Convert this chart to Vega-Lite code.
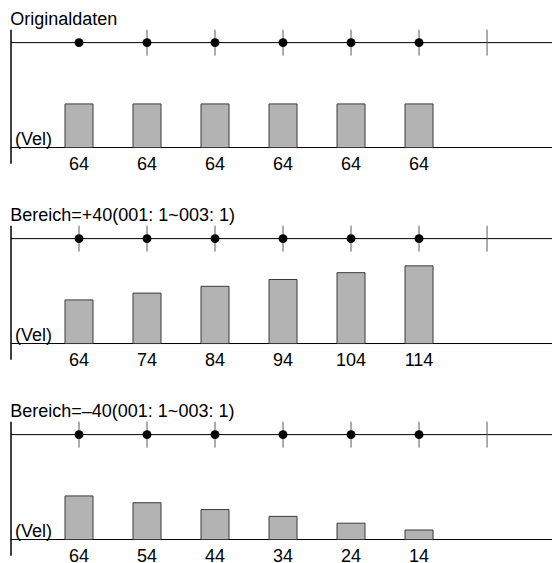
{
  "$schema": "https://vega.github.io/schema/vega-lite/v6.json",
  "background": "white",
  "padding": {"left": 10, "top": 10, "right": 0, "bottom": -3},
  "bounds": "flush",
  "spacing": 55,
  "config": {"view": {"stroke": null}, "font": "Liberation Sans", "title": {"font": "Liberation Sans", "fontSize": 18, "fontWeight": "normal", "color": "black", "anchor": "start", "offset": 0.1, "baseline": "alphabetic"}},
  "datasets": {
    "bars": [
      {"p": 1, "pos": 1, "vel": 64}, {"p": 1, "pos": 2, "vel": 64}, {"p": 1, "pos": 3, "vel": 64},
      {"p": 1, "pos": 4, "vel": 64}, {"p": 1, "pos": 5, "vel": 64}, {"p": 1, "pos": 6, "vel": 64},
      {"p": 2, "pos": 1, "vel": 64}, {"p": 2, "pos": 2, "vel": 74}, {"p": 2, "pos": 3, "vel": 84},
      {"p": 2, "pos": 4, "vel": 94}, {"p": 2, "pos": 5, "vel": 104}, {"p": 2, "pos": 6, "vel": 114},
      {"p": 3, "pos": 1, "vel": 64}, {"p": 3, "pos": 2, "vel": 54}, {"p": 3, "pos": 3, "vel": 44},
      {"p": 3, "pos": 4, "vel": 34}, {"p": 3, "pos": 5, "vel": 24}, {"p": 3, "pos": 6, "vel": 14}
    ],
    "ticks": [
      {"p": 1, "pos": 2}, {"p": 1, "pos": 3}, {"p": 1, "pos": 4}, {"p": 1, "pos": 5}, {"p": 1, "pos": 6}, {"p": 1, "pos": 7},
      {"p": 2, "pos": 1}, {"p": 2, "pos": 2}, {"p": 2, "pos": 3}, {"p": 2, "pos": 4}, {"p": 2, "pos": 5}, {"p": 2, "pos": 6}, {"p": 2, "pos": 7},
      {"p": 3, "pos": 1}, {"p": 3, "pos": 2}, {"p": 3, "pos": 3}, {"p": 3, "pos": 4}, {"p": 3, "pos": 5}, {"p": 3, "pos": 6}, {"p": 3, "pos": 7}
    ],
    "one": [{}]
  },
  "vconcat": [
    {
      "width": 542, "height": 141,
      "title": {"text": "Originaldaten"},
      "layer": [
        {"data": {"name": "one"}, "mark": {"type": "rule", "color": "black", "strokeWidth": 1}, "encoding": {"y": {"datum": 154, "type": "quantitative", "scale": {"domain": [-33, 174], "nice": false, "zero": false}, "axis": null}}},
        {"data": {"name": "one"}, "mark": {"type": "rule", "color": "black", "strokeWidth": 1}, "encoding": {"y": {"datum": 0, "type": "quantitative", "scale": {"domain": [-33, 174], "nice": false, "zero": false}, "axis": null}}},
        {"data": {"name": "one"}, "mark": {"type": "rule", "color": "black", "strokeWidth": 1.5}, "encoding": {"x": {"datum": 0, "type": "quantitative", "scale": {"domain": [0, 7.97], "nice": false, "zero": false, "padding": 0}, "axis": null}, "y": {"datum": 173, "type": "quantitative", "scale": {"domain": [-33, 174], "nice": false, "zero": false}, "axis": null}, "y2": {"datum": -24}}},
        {"data": {"name": "ticks"}, "transform": [{"filter": "datum.p == 1"}], "mark": {"type": "rule", "color": "#5a5a5a", "strokeWidth": 1}, "encoding": {"x": {"field": "pos", "type": "quantitative", "scale": {"domain": [0, 7.97], "nice": false, "zero": false, "padding": 0}, "axis": null}, "y": {"datum": 135, "type": "quantitative", "scale": {"domain": [-33, 174], "nice": false, "zero": false}, "axis": null}, "y2": {"datum": 173}}},
        {"data": {"name": "bars"}, "transform": [{"filter": "datum.p == 1"}], "mark": {"type": "bar", "size": 28, "fill": "#b3b3b3", "stroke": "#3a3a3a", "strokeWidth": 1}, "encoding": {"x": {"field": "pos", "type": "quantitative", "scale": {"domain": [0, 7.97], "nice": false, "zero": false, "padding": 0}, "axis": null}, "y": {"field": "vel", "type": "quantitative", "scale": {"domain": [-33, 174], "nice": false, "zero": false}, "axis": null}, "y2": {"datum": 0}}},
        {"data": {"name": "bars"}, "transform": [{"filter": "datum.p == 1"}], "mark": {"type": "point", "filled": true, "color": "black", "size": 80, "opacity": 1}, "encoding": {"x": {"field": "pos", "type": "quantitative", "scale": {"domain": [0, 7.97], "nice": false, "zero": false, "padding": 0}, "axis": null}, "y": {"datum": 154, "type": "quantitative", "scale": {"domain": [-33, 174], "nice": false, "zero": false}, "axis": null}}},
        {"data": {"name": "bars"}, "transform": [{"filter": "datum.p == 1"}], "mark": {"type": "text", "fontSize": 18, "color": "black", "baseline": "alphabetic"}, "encoding": {"x": {"field": "pos", "type": "quantitative", "scale": {"domain": [0, 7.97], "nice": false, "zero": false, "padding": 0}, "axis": null}, "y": {"datum": -32.6, "type": "quantitative", "scale": {"domain": [-33, 174], "nice": false, "zero": false}, "axis": null}, "text": {"field": "vel", "type": "nominal"}}},
        {"data": {"name": "one"}, "mark": {"type": "text", "fontSize": 18, "color": "black", "align": "left", "baseline": "alphabetic", "dx": 4, "dy": -3, "text": "(Vel)"}, "encoding": {"x": {"datum": 0, "type": "quantitative", "scale": {"domain": [0, 7.97], "nice": false, "zero": false, "padding": 0}, "axis": null}, "y": {"datum": 0, "type": "quantitative", "scale": {"domain": [-33, 174], "nice": false, "zero": false}, "axis": null}}}
      ]
    },
    {
      "width": 542, "height": 141,
      "title": {"text": "Bereich=+40(001: 1~003: 1)"},
      "layer": [
        {"data": {"name": "one"}, "mark": {"type": "rule", "color": "black", "strokeWidth": 1}, "encoding": {"y": {"datum": 154, "type": "quantitative", "scale": {"domain": [-33, 174], "nice": false, "zero": false}, "axis": null}}},
        {"data": {"name": "one"}, "mark": {"type": "rule", "color": "black", "strokeWidth": 1}, "encoding": {"y": {"datum": 0, "type": "quantitative", "scale": {"domain": [-33, 174], "nice": false, "zero": false}, "axis": null}}},
        {"data": {"name": "one"}, "mark": {"type": "rule", "color": "black", "strokeWidth": 1.5}, "encoding": {"x": {"datum": 0, "type": "quantitative", "scale": {"domain": [0, 7.97], "nice": false, "zero": false, "padding": 0}, "axis": null}, "y": {"datum": 173, "type": "quantitative", "scale": {"domain": [-33, 174], "nice": false, "zero": false}, "axis": null}, "y2": {"datum": -24}}},
        {"data": {"name": "ticks"}, "transform": [{"filter": "datum.p == 2"}], "mark": {"type": "rule", "color": "#5a5a5a", "strokeWidth": 1}, "encoding": {"x": {"field": "pos", "type": "quantitative", "scale": {"domain": [0, 7.97], "nice": false, "zero": false, "padding": 0}, "axis": null}, "y": {"datum": 135, "type": "quantitative", "scale": {"domain": [-33, 174], "nice": false, "zero": false}, "axis": null}, "y2": {"datum": 173}}},
        {"data": {"name": "bars"}, "transform": [{"filter": "datum.p == 2"}], "mark": {"type": "bar", "size": 28, "fill": "#b3b3b3", "stroke": "#3a3a3a", "strokeWidth": 1}, "encoding": {"x": {"field": "pos", "type": "quantitative", "scale": {"domain": [0, 7.97], "nice": false, "zero": false, "padding": 0}, "axis": null}, "y": {"field": "vel", "type": "quantitative", "scale": {"domain": [-33, 174], "nice": false, "zero": false}, "axis": null}, "y2": {"datum": 0}}},
        {"data": {"name": "bars"}, "transform": [{"filter": "datum.p == 2"}], "mark": {"type": "point", "filled": true, "color": "black", "size": 80, "opacity": 1}, "encoding": {"x": {"field": "pos", "type": "quantitative", "scale": {"domain": [0, 7.97], "nice": false, "zero": false, "padding": 0}, "axis": null}, "y": {"datum": 154, "type": "quantitative", "scale": {"domain": [-33, 174], "nice": false, "zero": false}, "axis": null}}},
        {"data": {"name": "bars"}, "transform": [{"filter": "datum.p == 2"}], "mark": {"type": "text", "fontSize": 18, "color": "black", "baseline": "alphabetic"}, "encoding": {"x": {"field": "pos", "type": "quantitative", "scale": {"domain": [0, 7.97], "nice": false, "zero": false, "padding": 0}, "axis": null}, "y": {"datum": -32.6, "type": "quantitative", "scale": {"domain": [-33, 174], "nice": false, "zero": false}, "axis": null}, "text": {"field": "vel", "type": "nominal"}}},
        {"data": {"name": "one"}, "mark": {"type": "text", "fontSize": 18, "color": "black", "align": "left", "baseline": "alphabetic", "dx": 4, "dy": -3, "text": "(Vel)"}, "encoding": {"x": {"datum": 0, "type": "quantitative", "scale": {"domain": [0, 7.97], "nice": false, "zero": false, "padding": 0}, "axis": null}, "y": {"datum": 0, "type": "quantitative", "scale": {"domain": [-33, 174], "nice": false, "zero": false}, "axis": null}}}
      ]
    },
    {
      "width": 542, "height": 141,
      "title": {"text": "Bereich=–40(001: 1~003: 1)"},
      "layer": [
        {"data": {"name": "one"}, "mark": {"type": "rule", "color": "black", "strokeWidth": 1}, "encoding": {"y": {"datum": 154, "type": "quantitative", "scale": {"domain": [-33, 174], "nice": false, "zero": false}, "axis": null}}},
        {"data": {"name": "one"}, "mark": {"type": "rule", "color": "black", "strokeWidth": 1}, "encoding": {"y": {"datum": 0, "type": "quantitative", "scale": {"domain": [-33, 174], "nice": false, "zero": false}, "axis": null}}},
        {"data": {"name": "one"}, "mark": {"type": "rule", "color": "black", "strokeWidth": 1.5}, "encoding": {"x": {"datum": 0, "type": "quantitative", "scale": {"domain": [0, 7.97], "nice": false, "zero": false, "padding": 0}, "axis": null}, "y": {"datum": 173, "type": "quantitative", "scale": {"domain": [-33, 174], "nice": false, "zero": false}, "axis": null}, "y2": {"datum": -24}}},
        {"data": {"name": "ticks"}, "transform": [{"filter": "datum.p == 3"}], "mark": {"type": "rule", "color": "#5a5a5a", "strokeWidth": 1}, "encoding": {"x": {"field": "pos", "type": "quantitative", "scale": {"domain": [0, 7.97], "nice": false, "zero": false, "padding": 0}, "axis": null}, "y": {"datum": 135, "type": "quantitative", "scale": {"domain": [-33, 174], "nice": false, "zero": false}, "axis": null}, "y2": {"datum": 173}}},
        {"data": {"name": "bars"}, "transform": [{"filter": "datum.p == 3"}], "mark": {"type": "bar", "size": 28, "fill": "#b3b3b3", "stroke": "#3a3a3a", "strokeWidth": 1}, "encoding": {"x": {"field": "pos", "type": "quantitative", "scale": {"domain": [0, 7.97], "nice": false, "zero": false, "padding": 0}, "axis": null}, "y": {"field": "vel", "type": "quantitative", "scale": {"domain": [-33, 174], "nice": false, "zero": false}, "axis": null}, "y2": {"datum": 0}}},
        {"data": {"name": "bars"}, "transform": [{"filter": "datum.p == 3"}], "mark": {"type": "point", "filled": true, "color": "black", "size": 80, "opacity": 1}, "encoding": {"x": {"field": "pos", "type": "quantitative", "scale": {"domain": [0, 7.97], "nice": false, "zero": false, "padding": 0}, "axis": null}, "y": {"datum": 154, "type": "quantitative", "scale": {"domain": [-33, 174], "nice": false, "zero": false}, "axis": null}}},
        {"data": {"name": "bars"}, "transform": [{"filter": "datum.p == 3"}], "mark": {"type": "text", "fontSize": 18, "color": "black", "baseline": "alphabetic"}, "encoding": {"x": {"field": "pos", "type": "quantitative", "scale": {"domain": [0, 7.97], "nice": false, "zero": false, "padding": 0}, "axis": null}, "y": {"datum": -32.6, "type": "quantitative", "scale": {"domain": [-33, 174], "nice": false, "zero": false}, "axis": null}, "text": {"field": "vel", "type": "nominal"}}},
        {"data": {"name": "one"}, "mark": {"type": "text", "fontSize": 18, "color": "black", "align": "left", "baseline": "alphabetic", "dx": 4, "dy": -3, "text": "(Vel)"}, "encoding": {"x": {"datum": 0, "type": "quantitative", "scale": {"domain": [0, 7.97], "nice": false, "zero": false, "padding": 0}, "axis": null}, "y": {"datum": 0, "type": "quantitative", "scale": {"domain": [-33, 174], "nice": false, "zero": false}, "axis": null}}}
      ]
    }
  ]
}
